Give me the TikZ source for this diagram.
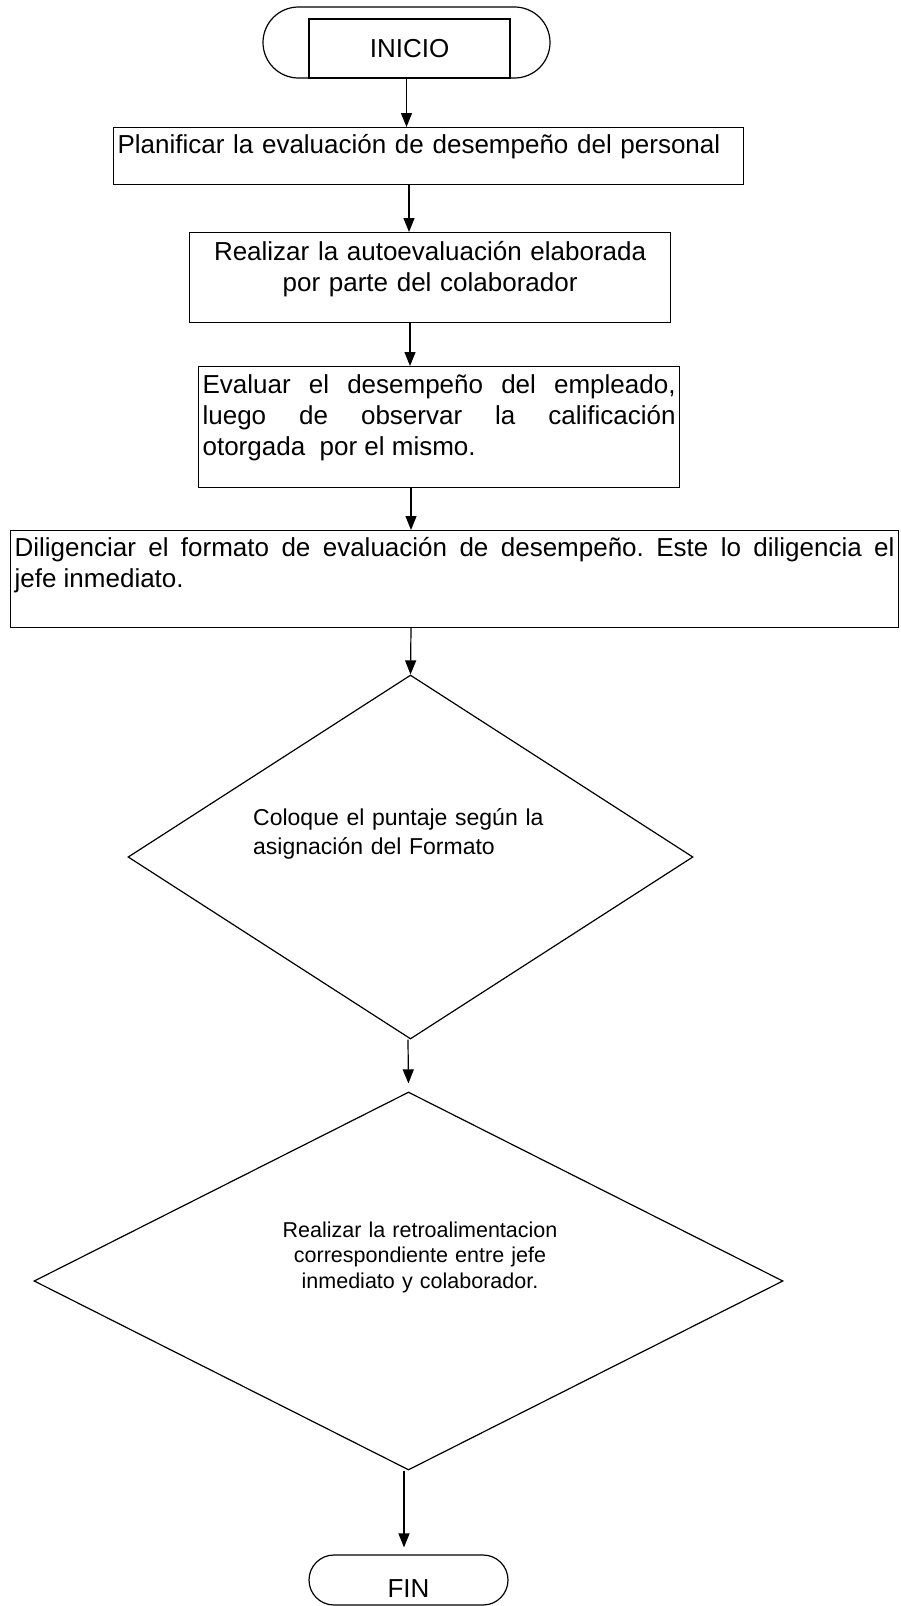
\documentclass[tikz,border=0pt]{standalone}
\usepackage{fontspec}
\setmainfont{Liberation Sans}
\usepackage{tikz}
\usetikzlibrary{shapes.geometric, shapes.misc, arrows.meta, positioning}
\frenchspacing

\begin{document}
\begin{tikzpicture}[
    x=1pt, y=-1pt,
    caja/.style={draw, line width=1.2pt, anchor=north west, inner xsep=4pt, inner ysep=0pt, font=\fontsize{26}{31}\selectfont},
    decision/.style={draw, diamond, line width=1.2pt, inner sep=0pt},
    terminal/.style={draw, rounded rectangle, line width=1.2pt, inner sep=0pt, font=\fontsize{26}{31}\selectfont},
    flecha/.style={-{Triangle[length=14pt, width=11pt]}, line width=1.2pt}
]
    \useasboundingbox (0,0) rectangle (900,1606);

    % Inicio
    \node[terminal, minimum width=287pt, minimum height=71pt] (inicio) at (406.5,42.5) {};
    \node[draw, line width=1.2pt, minimum width=201pt, minimum height=59pt, inner sep=0pt, font=\fontsize{26}{31}\selectfont] (inicioCaja) at (409.5,48.5) {INICIO};

    % Actividades
    \node[caja, text width=622pt, align=left, text height=26pt, text depth=31pt] (planificar) at (113,127) {Planificar la evaluación de desempeño del personal};
    \node[caja, text width=473pt, align=center, text height=28pt, text depth=62pt] (autoeval) at (189,232) {Realizar la autoevaluación elaborada\\por parte del colaborador};
    \node[caja, text width=473pt, align=justify, text height=27pt, text depth=94pt] (evaluar) at (198,366) {Evaluar el desempeño del empleado,\linebreak luego de observar la calificación\linebreak otorgada\ \ por el mismo.};
    \node[caja, text width=880pt, align=justify, text height=26pt, text depth=71pt] (diligenciar) at (10,530) {Diligenciar el formato de evaluación de desempeño. Este lo diligencia el\linebreak jefe inmediato.};

    % Decisiones
    \node[decision, minimum width=565pt, minimum height=364pt] (puntaje) at (410.5,857) {};
    \node[anchor=base west, inner sep=0pt, text width=300pt, align=left, font=\fontsize{23}{29}\selectfont] (puntajeTxt) at (253,825) {Coloque el puntaje según la\\asignación del Formato};
    \node[decision, minimum width=749pt, minimum height=378pt] (retro) at (408.5,1281) {};
    \node[anchor=base, inner sep=0pt, text width=300pt, align=center, font=\fontsize{21.5}{25.5}\selectfont] (retroTxt) at (420,1237) {Realizar la retroalimentacion\\correspondiente entre jefe\\inmediato y colaborador.};

    % Fin
    \node[terminal, minimum width=199pt, minimum height=50pt, text height=40pt, text depth=6pt, inner ysep=2pt] (fin) at (408.5,1580) {FIN};

    % Flechas
    \draw[flecha] (inicio.south) -- (inicio.south |- planificar.north);
    \draw[flecha] (409,0 |- planificar.south) -- (409,0 |- autoeval.north);
    \draw[flecha] (410,0 |- autoeval.south) -- (410,0 |- evaluar.north);
    \draw[flecha] (411,0 |- evaluar.south) -- (411,0 |- diligenciar.north);
    \draw[flecha] (411,0 |- diligenciar.south) -- (puntaje.north);
    \draw[flecha, shorten >=8pt] (408,0 |- puntaje.south) -- (retro.north);
    \draw[flecha, shorten >=7pt] (404,0 |- retro.south) -- (404,0 |- fin.north);
\end{tikzpicture}
\end{document}
